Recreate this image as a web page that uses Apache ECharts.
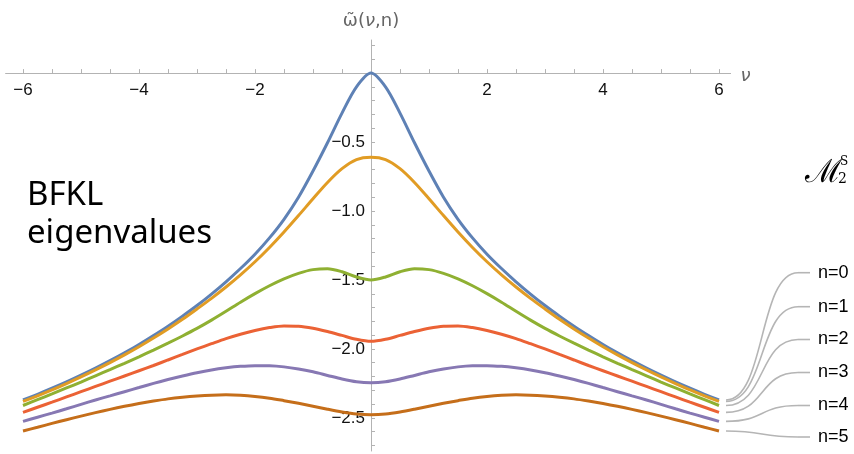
<!doctype html>
<html>
<head>
<meta charset="utf-8">
<script src="https://cdn.jsdelivr.net/npm/echarts@6/dist/echarts.min.js"></script>
<style>
  html, body { margin: 0; padding: 0; background: #fff; }
  #main { width: 854px; height: 454px; }
</style>
</head>
<body>
<div id="main"></div>
<script>
// nu grid, step 0.25
var nu = [-6,-5.75,-5.5,-5.25,-5,-4.75,-4.5,-4.25,-4,-3.75,-3.5,-3.25,-3,-2.75,-2.5,-2.25,-2,-1.75,-1.5,-1.25,-1,-0.75,-0.5,-0.25,0,
          0.25,0.5,0.75,1,1.25,1.5,1.75,2,2.25,2.5,2.75,3,3.25,3.5,3.75,4,4.25,4.5,4.75,5,5.25,5.5,5.75,6];

// omega tilde(nu, n), n = 0..5
var w0 = [-2.370,-2.329,-2.285,-2.239,-2.190,-2.139,-2.085,-2.028,-1.968,-1.903,-1.835,-1.762,-1.685,-1.602,-1.513,-1.417,-1.313,-1.195,-1.060,-0.900,-0.710,-0.505,-0.290,-0.100,0,
          -0.100,-0.290,-0.505,-0.710,-0.900,-1.060,-1.195,-1.313,-1.417,-1.513,-1.602,-1.685,-1.762,-1.835,-1.903,-1.968,-2.028,-2.085,-2.139,-2.190,-2.239,-2.285,-2.329,-2.370];
var w1 = [-2.380,-2.340,-2.297,-2.251,-2.203,-2.152,-2.099,-2.043,-1.984,-1.921,-1.855,-1.785,-1.710,-1.633,-1.551,-1.463,-1.368,-1.264,-1.152,-1.033,-0.911,-0.793,-0.693,-0.627,-0.610,
          -0.627,-0.693,-0.793,-0.911,-1.033,-1.152,-1.264,-1.368,-1.463,-1.551,-1.633,-1.710,-1.785,-1.855,-1.921,-1.984,-2.043,-2.099,-2.152,-2.203,-2.251,-2.297,-2.340,-2.380];
var w2 = [-2.410,-2.368,-2.326,-2.283,-2.240,-2.195,-2.150,-2.104,-2.057,-2.008,-1.958,-1.906,-1.851,-1.791,-1.727,-1.661,-1.599,-1.542,-1.492,-1.452,-1.425,-1.418,-1.440,-1.478,-1.500,
          -1.478,-1.440,-1.418,-1.425,-1.452,-1.492,-1.542,-1.599,-1.661,-1.727,-1.791,-1.851,-1.906,-1.958,-2.008,-2.057,-2.104,-2.150,-2.195,-2.240,-2.283,-2.326,-2.368,-2.410];
var w3 = [-2.460,-2.423,-2.386,-2.348,-2.310,-2.272,-2.234,-2.196,-2.158,-2.120,-2.080,-2.040,-2.000,-1.962,-1.925,-1.893,-1.866,-1.845,-1.833,-1.835,-1.850,-1.874,-1.902,-1.930,-1.945,
          -1.930,-1.902,-1.874,-1.850,-1.835,-1.833,-1.845,-1.866,-1.893,-1.925,-1.962,-2.000,-2.040,-2.080,-2.120,-2.158,-2.196,-2.234,-2.272,-2.310,-2.348,-2.386,-2.423,-2.460];
var w4 = [-2.525,-2.495,-2.465,-2.434,-2.402,-2.370,-2.340,-2.310,-2.280,-2.250,-2.222,-2.196,-2.172,-2.152,-2.137,-2.126,-2.121,-2.122,-2.130,-2.145,-2.166,-2.192,-2.218,-2.238,-2.245,
          -2.238,-2.218,-2.192,-2.166,-2.145,-2.130,-2.122,-2.121,-2.126,-2.137,-2.152,-2.172,-2.196,-2.222,-2.250,-2.280,-2.310,-2.340,-2.370,-2.402,-2.434,-2.465,-2.495,-2.525];
var w5 = [-2.595,-2.568,-2.540,-2.513,-2.487,-2.462,-2.438,-2.416,-2.396,-2.378,-2.362,-2.350,-2.341,-2.335,-2.333,-2.336,-2.344,-2.357,-2.375,-2.394,-2.415,-2.437,-2.457,-2.472,-2.477,
          -2.472,-2.457,-2.437,-2.415,-2.394,-2.375,-2.357,-2.344,-2.336,-2.333,-2.335,-2.341,-2.350,-2.362,-2.378,-2.396,-2.416,-2.438,-2.462,-2.487,-2.513,-2.540,-2.568,-2.595];

var seriesNames = ['n=0','n=1','n=2','n=3','n=4','n=5'];
var colors = ['#5e81b5','#e19c24','#8fb032','#eb6235','#8778b3','#c56e1a'];

// ticks and tick labels
var xTicks = [-6,-5.5,-5,-4.5,-4,-3.5,-3,-2.5,-2,-1.5,-1,-0.5,0.5,1,1.5,2,2.5,3,3.5,4,4.5,5,5.5,6];
var xLabels = [-6,-4,-2,2,4,6];
var yTicks = [-2.7,-2.6,-2.5,-2.4,-2.3,-2.2,-2.1,-2,-1.9,-1.8,-1.7,-1.6,-1.5,-1.4,-1.3,-1.2,-1.1,-1,
              -0.9,-0.8,-0.7,-0.6,-0.5,-0.4,-0.3,-0.2,-0.1,0.1,0.2];
var yLabels = [-2.5,-2,-1.5,-1,-0.5];

var all = [w0,w1,w2,w3,w4,w5];
var chart = echarts.init(document.getElementById('main'));

function fmt(v){ return String(v).replace('-', '\u2212'); }

var series = all.map(function(w, k){
  return {
    name: seriesNames[k],
    type: 'line',
    smooth: 0.3,
    showSymbol: false,
    z: 3,
    lineStyle: { color: colors[k], width: 3 },
    data: nu.map(function(x, i){ return [x, w[i]]; })
  };
});

var GRID = { left: 5.6, right: 123.4, top: 40, bottom: 3 };

var option = {
  animation: false,
  backgroundColor: '#fff',
  grid: { left: GRID.left, right: GRID.right, top: GRID.top, bottom: GRID.bottom, containLabel: false, outerBoundsMode: 'none' },
  xAxis: {
    type: 'value', min: -6.3, max: 6.2, position: 'top', offset: 0,
    name: '{i|\u03bd}', nameLocation: 'end', nameGap: 10,
    nameTextStyle: { rich: { i: { fontStyle: 'italic', fontSize: 18, color: '#666', fontFamily: 'DejaVu Sans', padding: [6,0,0,0] } } },
    axisLine: { onZero: false, lineStyle: { color: '#b3b3b3', width: 1 } },
    axisTick: { inside: false, length: 4, customValues: xTicks, lineStyle: { color: '#b3b3b3' } },
    axisLabel: { inside: true, customValues: xLabels, formatter: fmt, color: '#111', fontSize: 17, fontFamily: 'Liberation Sans', margin: 9 },
    splitLine: { show: false }
  },
  yAxis: {
    type: 'value', min: -2.74, max: 0.24, position: 'left', offset: 0,
    name: '\u03c9\u0303({i|\u03bd},n)', nameLocation: 'end', nameGap: 10,
    nameTextStyle: { color: '#666', fontSize: 18, fontFamily: 'DejaVu Sans',
      rich: { i: { fontStyle: 'italic', fontSize: 18, color: '#666', fontFamily: 'DejaVu Sans' } } },
    axisLine: { onZero: false, lineStyle: { color: '#b3b3b3', width: 1 } },
    axisTick: { inside: true, length: 4, customValues: yTicks, lineStyle: { color: '#b3b3b3' } },
    axisLabel: { customValues: yLabels, formatter: function(v){ return fmt(v.toFixed(1)); },
      color: '#111', fontSize: 17, fontFamily: 'Liberation Sans', margin: 6 },
    splitLine: { show: false }
  },
  series: series
};
chart.setOption(option);

// move the axes onto the origin
var o = chart.convertToPixel({ gridIndex: 0 }, [0, 0]);
chart.setOption({
  xAxis: { offset: -(o[1] - GRID.top) },
  yAxis: { offset: -(o[0] - GRID.left) }
});

// leaders from the curve ends to the n labels
var labelY = [272.7, 306.7, 339.5, 372.5, 405.5, 437];
var graphics = [
  { type: 'text', x: 27, y: 177, style: { text: 'BFKL\neigenvalues', fontSize: 33, lineHeight: 38, fontFamily: 'Noto Sans', fill: '#000' } },
  { type: 'text', x: 805, y: 158, style: { text: '\u2133', fontSize: 32, fontFamily: 'DejaVu Serif', fill: '#000' } },
  { type: 'text', x: 838, y: 172, style: { text: '2', fontSize: 14, fontFamily: 'DejaVu Serif', fill: '#000' } },
  { type: 'text', x: 840, y: 156, style: { text: 'S', fontSize: 12, fontFamily: 'DejaVu Serif', fill: '#000' } }
];
all.forEach(function(w, k){
  var p = chart.convertToPixel({ gridIndex: 0 }, [nu[nu.length - 1], w[w.length - 1]]);
  var x0 = p[0] + 7, y0 = p[1], x1 = 798, y1 = labelY[k];
  var dx = x1 - x0;
  graphics.push({
    type: 'bezierCurve', silent: true,
    shape: { x1: x0, y1: y0, cpx1: x0 + dx * 0.55, cpy1: y0, cpx2: x0 + dx * 0.45, cpy2: y1, x2: x1, y2: y1 },
    style: { stroke: '#b5b5b5', lineWidth: 1.6, fill: null }
  });
  graphics.push({
    type: 'line', silent: true,
    shape: { x1: x1, y1: y1, x2: 810, y2: y1 },
    style: { stroke: '#b5b5b5', lineWidth: 1.6 }
  });
  graphics.push({
    type: 'text', x: 818, y: y1, style: { text: seriesNames[k], fontSize: 18, fontFamily: 'Liberation Sans', fill: '#000', verticalAlign: 'middle' }
  });
});
chart.setOption({ graphic: graphics });
</script>
</body>
</html>
